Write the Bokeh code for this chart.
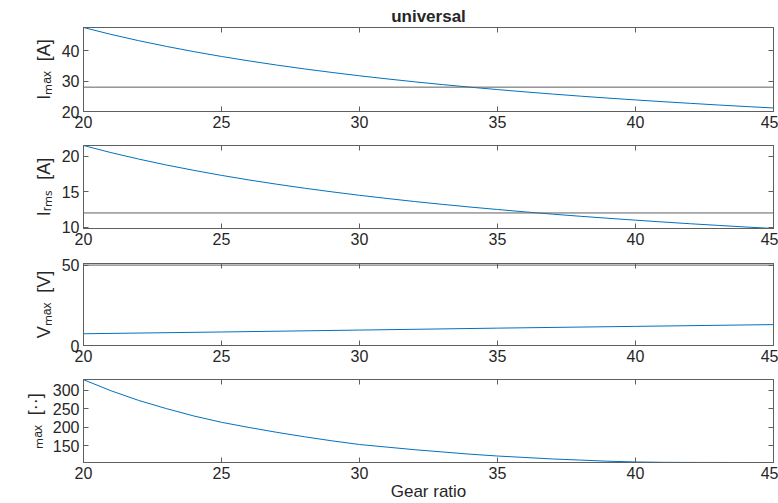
from bokeh.plotting import figure
from bokeh.layouts import column
from bokeh.models import LinearAxis, Range1d, Span, FixedTicker
from bokeh.embed import file_html
from bokeh.resources import INLINE

# ---------------- data ----------------
x_ticks = [20, 25, 30, 35, 40, 45]

gear_ratio = [20, 21, 22, 23, 24, 25, 26, 27, 28, 29, 30, 31, 32,
              33, 34, 35, 36, 37, 38, 39, 40, 41, 42, 43, 44, 45]
i_max = [47.6, 45.33, 43.27, 41.39, 39.67, 38.08, 36.62, 35.26, 34.00,
         32.83, 31.73, 30.71, 29.75, 28.85, 28.00, 27.20, 26.44, 25.73,
         25.05, 24.41, 23.80, 23.22, 22.67, 22.14, 21.64, 21.16]
i_max_limit = 28
i_rms = [21.55, 20.54, 19.63, 18.79, 18.03, 17.32, 16.67, 16.07, 15.51,
         14.99, 14.50, 14.05, 13.62, 13.22, 12.84, 12.49, 12.15, 11.83,
         11.53, 11.25, 10.98, 10.72, 10.47, 10.24, 10.01, 9.80]
i_rms_limit = 12

v_ratio = [20, 25, 30, 35, 40, 45]
v_max = [7.3, 8.4, 9.6, 10.8, 11.9, 13.0]
v_max_limit = 50

t_max = [328, 298, 272, 250, 230, 213, 199, 186, 174, 163, 153, 146, 139,
         133, 127, 122, 118, 114, 111, 108, 106, 105, 104.7, 104.6, 104.5, 104.5]

y1_range, y1_ticks, y1_label = (20, 47.6), [20, 30, 40], "Iₘₐₓ\u00a0\u00a0[A]"
y2_range, y2_ticks, y2_label = (9.8, 21.55), [10, 15, 20], "Iᵣₘₛ\u00a0\u00a0[A]"
y3_range, y3_ticks, y3_label = (0, 51), [0, 50], "Vₘₐₓ\u00a0\u00a0[V]"
y4_range, y4_ticks, y4_label = (104.5, 328.5), [150, 200, 250, 300], "ₘₐₓ\u00a0\u00a0[··]"
x_label = "Gear ratio"
title = "universal"

# ---------------- style ----------------
FONT = "Liberation Sans"
BLUE = "#0072BD"
FRAME = "#5f5f5f"
TXT = "#262626"
LEFT, RIGHT = 83, 5
FRAME_W = 690


def make(yr, yticks, ylab, t, fh, b, xlabel=None):
    p = figure(width=LEFT + FRAME_W + RIGHT, height=t + fh + b,
               x_range=Range1d(x_ticks[0], x_ticks[-1]), y_range=Range1d(*yr),
               output_backend="svg", toolbar_location=None,
               min_border_left=LEFT, min_border_right=RIGHT,
               min_border_top=t, min_border_bottom=b,
               x_axis_location=None, y_axis_location=None)
    p.grid.visible = False
    p.outline_line_color = FRAME
    p.outline_line_width = 1
    p.background_fill_color = "white"
    p.border_fill_color = "white"

    for loc, tk in (("below", x_ticks), ("left", yticks), ("above", x_ticks), ("right", yticks)):
        ax = LinearAxis(ticker=FixedTicker(ticks=tk))
        ax.axis_line_color = FRAME
        ax.major_tick_line_color = FRAME
        ax.major_tick_in = 5
        ax.major_tick_out = 0
        ax.minor_tick_line_color = None
        ax.major_label_text_font = FONT
        ax.major_label_text_color = TXT
        if loc in ("below", "left"):
            ax.major_label_text_font_size = "16px"
            ax.major_label_standoff = 4
        else:
            ax.major_label_text_font_size = "0px"
            ax.major_label_text_color = None
            ax.major_label_standoff = 0
        if loc == "left":
            ax.axis_label = ylab
            ax.axis_label_text_font = FONT
            ax.axis_label_text_font_size = "18px"
            ax.axis_label_text_font_style = "normal"
            ax.axis_label_text_color = TXT
            ax.axis_label_standoff = 5
        if loc == "below" and xlabel:
            ax.axis_label = xlabel
            ax.axis_label_text_font = FONT
            ax.axis_label_text_font_size = "17px"
            ax.axis_label_text_font_style = "normal"
            ax.axis_label_text_color = TXT
            ax.axis_label_standoff = 0
        p.add_layout(ax, loc)
    return p


# figure 1
p1 = make(y1_range, y1_ticks, y1_label, 27, 84, 28)
p1.line(gear_ratio, i_max, line_color=BLUE, line_width=1)
p1.add_layout(Span(location=i_max_limit, dimension="width", line_color=FRAME, line_width=1))
p1.title.text = title
p1.title.align = "center"
p1.title.text_font = FONT
p1.title.text_font_size = "17px"
p1.title.text_font_style = "bold"
p1.title.text_color = TXT
p1.title.standoff = 4

# figure 2
p2 = make(y2_range, y2_ticks, y2_label, 6, 83, 29)
p2.line(gear_ratio, i_rms, line_color=BLUE, line_width=1)
p2.add_layout(Span(location=i_rms_limit, dimension="width", line_color=FRAME, line_width=1))

# figure 3
p3 = make(y3_range, y3_ticks, y3_label, 6, 82, 28)
p3.line(v_ratio, v_max, line_color=BLUE, line_width=1)
p3.add_layout(Span(location=v_max_limit, dimension="width", line_color=FRAME, line_width=1))

# figure 4
p4 = make(y4_range, y4_ticks, y4_label, 6, 83, 41, xlabel=x_label)
p4.line(gear_ratio, t_max, line_color=BLUE, line_width=1)

layout = column(p1, p2, p3, p4, spacing=0)
open("out.html", "w").write(file_html(layout, INLINE))
